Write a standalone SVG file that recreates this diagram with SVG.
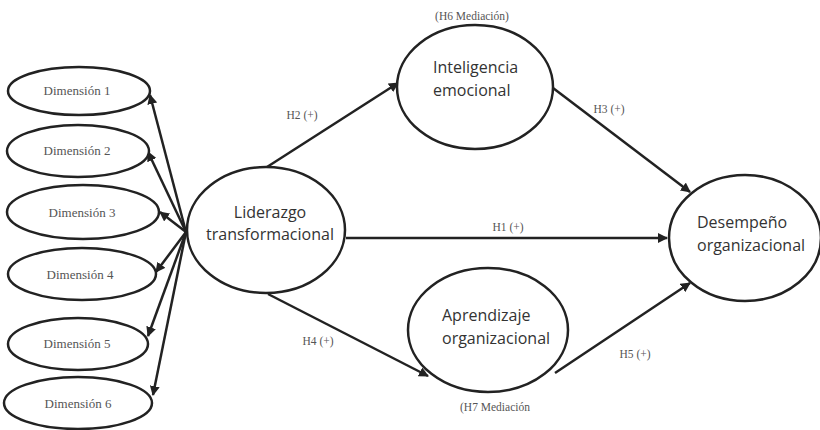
<svg xmlns="http://www.w3.org/2000/svg" width="820" height="430" viewBox="0 0 820 430">
<defs>
<marker id="ah" viewBox="0 0 10 10" refX="9" refY="5" markerWidth="4" markerHeight="4" orient="auto">
<path d="M0,0 L10,5 L0,10 z" fill="#222"/>
</marker>
<style>
.n{fill:#fff;stroke:#222;stroke-width:2.5}
.d{fill:#fff;stroke:#222;stroke-width:2.5}
.c{stroke:#222;stroke-width:2.5;fill:none;marker-end:url(#ah)}
.dt{font-family:"Liberation Serif",serif;font-size:13px;fill:#555;text-anchor:middle}
.nt{font-family:"Open Sans","Liberation Sans",sans-serif;font-size:16px;fill:#333}
.lt{font-family:"Liberation Serif",serif;font-size:11.5px;fill:#555;text-anchor:middle}
</style>
</defs>
<rect width="820" height="430" fill="#fff"/>
<g id="connectors">
<line class="c" x1="186" y1="232" x2="150" y2="95"/>
<line class="c" x1="186" y1="232" x2="148" y2="152"/>
<line class="c" x1="186" y1="232" x2="160" y2="212"/>
<line class="c" x1="186" y1="232" x2="156" y2="272"/>
<line class="c" x1="186" y1="232" x2="148" y2="336"/>
<line class="c" x1="186" y1="232" x2="153" y2="395"/>
<line class="c" x1="267" y1="167" x2="398" y2="83"/>
<line class="c" x1="553" y1="88" x2="690" y2="192"/>
<line class="c" x1="346" y1="238" x2="667" y2="238"/>
<line class="c" x1="268" y1="294" x2="428" y2="376"/>
<line class="c" x1="555" y1="373" x2="690" y2="283"/>
<text class="lt" x="302" y="119">H2 (+)</text>
<text class="lt" x="609" y="113">H3 (+)</text>
<text class="lt" x="508" y="231">H1 (+)</text>
<text class="lt" x="318" y="345">H4 (+)</text>
<text class="lt" x="635" y="358">H5 (+)</text>
</g>
<g id="dim1"><ellipse class="d" cx="79" cy="91" rx="71" ry="24"/><text class="dt" x="77" y="95">Dimensión 1</text></g>
<g id="dim2"><ellipse class="d" cx="78" cy="151" rx="71" ry="26"/><text class="dt" x="77" y="155">Dimensión 2</text></g>
<g id="dim3"><ellipse class="d" cx="83" cy="212" rx="76" ry="27"/><text class="dt" x="82" y="217">Dimensión 3</text></g>
<g id="dim4"><ellipse class="d" cx="82" cy="274" rx="74" ry="26"/><text class="dt" x="80" y="279">Dimensión 4</text></g>
<g id="dim5"><ellipse class="d" cx="78" cy="344" rx="70" ry="26"/><text class="dt" x="77" y="348">Dimensión 5</text></g>
<g id="dim6"><ellipse class="d" cx="78" cy="403" rx="74" ry="26"/><text class="dt" x="78" y="408">Dimensión 6</text></g>
<g id="liderazgo"><ellipse class="n" cx="266" cy="230" rx="79" ry="63"/><text class="nt" x="270" y="218" text-anchor="middle">Liderazgo</text><text class="nt" x="270" y="240" text-anchor="middle">transformacional</text></g>
<g id="inteligencia"><ellipse class="n" cx="475" cy="87" rx="78" ry="62"/><text class="nt" x="433" y="73">Inteligencia</text><text class="nt" x="433" y="96">emocional</text><text class="lt" x="472" y="20">(H6 Mediación)</text></g>
<g id="aprendizaje"><ellipse class="n" cx="488" cy="330" rx="80" ry="62"/><text class="nt" x="442" y="321">Aprendizaje</text><text class="nt" x="442" y="344">organizacional</text><text class="lt" x="495" y="411">(H7 Mediación</text></g>
<g id="desempeno"><ellipse class="n" cx="745" cy="238" rx="76" ry="63"/><text class="nt" x="697" y="228">Desempeño</text><text class="nt" x="697" y="251">organizacional</text></g>
</svg>
